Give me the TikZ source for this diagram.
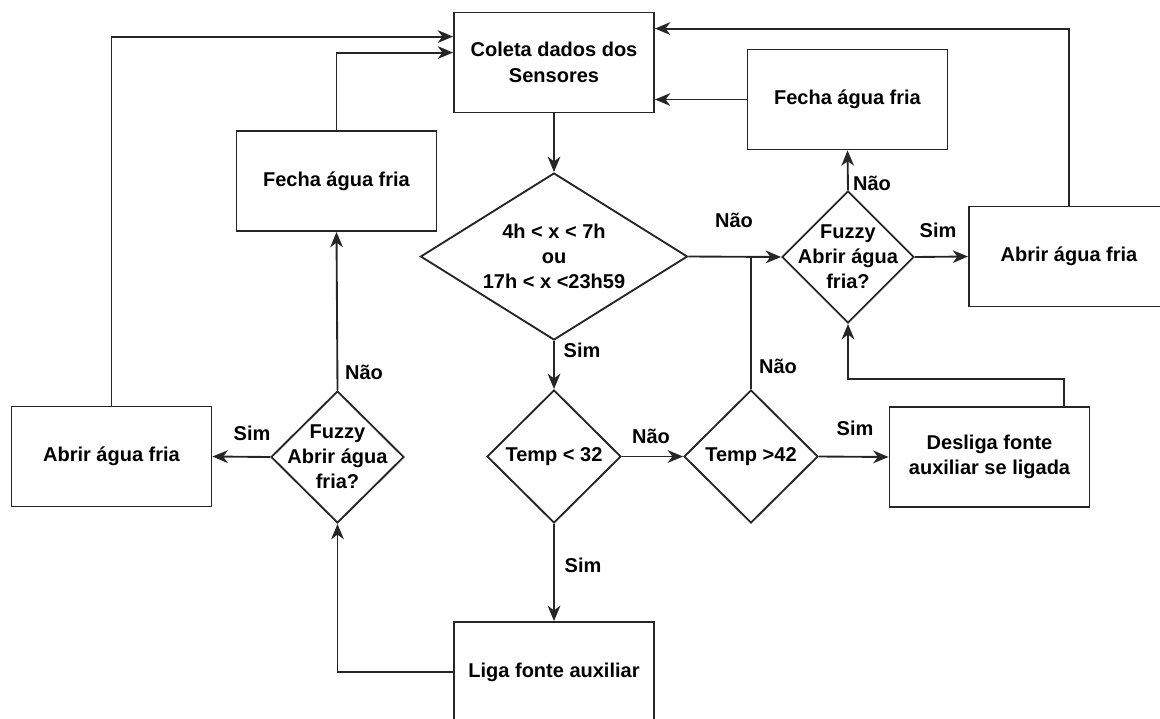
\documentclass[tikz,border=0pt]{standalone}
\usepackage{fontspec}
\setmainfont{Liberation Sans}
\usetikzlibrary{shapes.geometric,arrows.meta,calc}
\begin{document}
\begin{tikzpicture}[x=0.75pt,y=-0.75pt,
  line width=1.4pt,
  box/.style={draw=black!85, rectangle, minimum width=150pt, minimum height=75pt, inner sep=0pt, align=center, font=\fontsize{15}{19}\selectfont\bfseries},
  dia/.style={draw=black!85, diamond, inner sep=0pt},
  txt/.style={align=center, font=\fontsize{15}{18.75}\selectfont\bfseries, inner sep=0pt},
  lbl/.style={font=\fontsize{15}{18}\selectfont\bfseries, inner sep=0pt},
  con/.style={draw=black!85},
  arr/.style={con, -{Stealth[length=11.5pt,width=9.5pt,inset=3.5pt]}}
]
\useasboundingbox (0,0) rectangle (1160,718);
\clip (0,0) rectangle (1160,718);

% boxes
\node[box] (coleta) at (554,62.5) {Coleta dados dos\\Sensores};
\node[box] (fechaR) at (847.5,99.5) {Fecha água fria};
\node[box] (abrirR) at (1069,256.5) {Abrir água fria};
\node[box] (fechaL) at (336.5,181) {Fecha água fria};
\node[box] (abrirL) at (111.5,456.5) {Abrir água fria};
\node[box] (desliga) at (989.5,457) {Desliga fonte\\auxiliar se ligada};
\node[box] (liga) at (554,672) {Liga fonte auxiliar};

% diamonds
\node[dia, minimum width=200.25pt, minimum height=125.25pt] (d1) at (554,256.5) {};
\node[txt] (d1t) at (d1.center) {4h < x < 7h\\ou\\17h < x <23h59};
\node[dia, minimum width=99pt, minimum height=99pt] (fzR) at (848,257) {};
\node[txt] (fzRt) at (fzR.center) {Fuzzy\\Abrir água\\fria?};
\node[dia, minimum width=99.75pt, minimum height=99pt] (fzL) at (337.5,457) {};
\node[txt] (fzLt) at (fzL.center) {Fuzzy\\Abrir água\\fria?};
\node[dia, minimum width=100.5pt, minimum height=99.75pt] (t32) at (554,456.5) {};
\node[txt] (t32t) at (t32.center) {Temp < 32};
\node[dia, minimum width=100.5pt, minimum height=99.75pt] (t42) at (751,456.5) {};
\node[txt] (t42t) at (t42.center) {Temp >42};

% connectors
\draw[arr] (coleta.south) -- (d1.north);
\draw[arr] (d1.east) -- (fzR.west);
\draw[con] (t42.north) -- (t42.north |- d1.east);
\draw[arr] (fzR.north) -- (fechaR.south);
\draw[arr] (fechaR.west) -- (fechaR.west -| coleta.east);
\draw[arr] (fzR.east) -- (abrirR.west);
\draw[arr] (abrirR.north) |- ($(coleta.north east)+(0,17)$);
\draw[arr] (abrirL.north) |- ($(coleta.north west)+(0,25)$);
\draw[arr] (fechaL.north) |- ($(coleta.north west)+(0,41)$);
\draw[arr] (fzL.north) -- (fechaL.south);
\draw[arr] (fzL.west) -- (abrirL.east);
\draw[arr] (liga.west) -| (fzL.south);
\draw[arr] (d1.south) -- (t32.north);
\draw[arr] (t32.south) -- (liga.north);
\draw[arr] (t32.east) -- (t42.west);
\draw[arr] (t42.east) -- (desliga.west);
\draw[arr] ($(desliga.north west)!0.87!(desliga.north east)$) |- ($(fzR.south)+(0,55)$) -- (fzR.south);

% labels
\node[lbl] (l1) at (734,220) {Não};
\node[lbl] (l2) at (582,350) {Sim};
\node[lbl] (l3) at (872,183) {Não};
\node[lbl] (l4) at (938,230) {Sim};
\node[lbl] (l5) at (778,366) {Não};
\node[lbl] (l6) at (252,433) {Sim};
\node[lbl] (l7) at (364,372) {Não};
\node[lbl] (l8) at (651,436) {Não};
\node[lbl] (l9) at (855,428) {Sim};
\node[lbl] (l10) at (583,565) {Sim};
\end{tikzpicture}
\end{document}
